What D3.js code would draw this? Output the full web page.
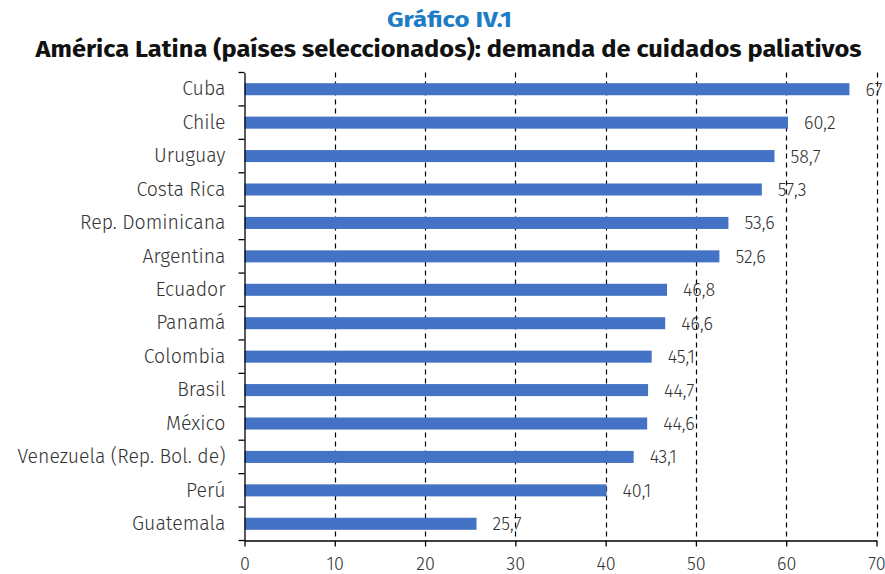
<!DOCTYPE html>
<html><head><meta charset="utf-8">
<script src="https://cdn.jsdelivr.net/npm/d3@7"></script>
<style>body{margin:0;background:#fff}svg{display:block}text{font-family:"Fira Sans","Noto Sans","Open Sans",sans-serif}</style>
</head><body><svg id="c" width="885" height="574"></svg>
<script>
const categories = ["Cuba","Chile","Uruguay","Costa Rica","Rep. Dominicana","Argentina","Ecuador","Panamá","Colombia","Brasil","México","Venezuela (Rep. Bol. de)","Perú","Guatemala"];
const values = [67,60.2,58.7,57.3,53.6,52.6,46.8,46.6,45.1,44.7,44.6,43.1,40.1,25.7];
const xTicks = [0,10,20,30,40,50,60,70];
const title = "Gráfico IV.1";
const subtitle = "América Latina (países seleccionados): demanda de cuidados paliativos";

const svg = d3.select("#c");
const m = {left:244.5, right:876.5, top:72.5, bottom:540.5};
const x = d3.scaleLinear().domain([0,70]).range([m.left, m.right]);
const y = d3.scaleBand().domain(categories).range([m.top, m.bottom]).paddingInner(0.64).paddingOuter(0.32);

svg.append("text").attr("x",449.5).attr("y",27).attr("text-anchor","middle")
  .attr("font-size",22).attr("font-weight","bold").attr("fill","#1c7cc6")
  .attr("textLength",125).attr("lengthAdjust","spacingAndGlyphs").text(title);
svg.append("text").attr("x",448.5).attr("y",57).attr("text-anchor","middle")
  .attr("font-size",23).attr("font-weight","bold").attr("fill","#111")
  .attr("textLength",826).attr("lengthAdjust","spacingAndGlyphs").text(subtitle);

// gridlines
svg.append("g").selectAll("line").data(xTicks.filter(d=>d>0)).join("line")
  .attr("x1",d=>Math.round(x(d))+0.5).attr("x2",d=>Math.round(x(d))+0.5)
  .attr("y1",m.top).attr("y2",m.bottom)
  .attr("stroke","#000").attr("stroke-width",1.2).attr("stroke-dasharray","5,4");

// bars
svg.append("g").selectAll("rect").data(values).join("rect")
  .attr("x",x(0)).attr("y",(d,i)=>y(categories[i]))
  .attr("width",d=>x(d)-x(0)).attr("height",y.bandwidth())
  .attr("fill","#4472c4");

// value labels
svg.append("g").selectAll("text").data(values).join("text")
  .attr("x",d=>x(d)+16).attr("y",(d,i)=>y(categories[i])+y.bandwidth()/2)
  .attr("dy","0.36em").attr("font-size",18).attr("font-weight",300).attr("fill","#333")
  .text(d=>d3.format("~f")(d).replace(".",","));

// y axis
const yAxis = d3.axisLeft(y).tickSize(0).tickPadding(19);
const gy = svg.append("g").attr("transform",`translate(${m.left},0)`).call(yAxis);
gy.select(".domain").attr("stroke","#000").attr("stroke-width",1.3);
gy.selectAll(".tick text").attr("font-size",19.5).attr("font-weight",300).attr("fill","#333").attr("font-family",'"Fira Sans","Noto Sans",sans-serif');
// boundary ticks
const bounds = categories.map(c=>y(c)-y.step()*y.paddingInner()/2).concat([m.bottom]);
svg.append("g").selectAll("line").data(bounds).join("line")
  .attr("x1",m.left-6).attr("x2",m.left).attr("y1",d=>d).attr("y2",d=>d)
  .attr("stroke","#000").attr("stroke-width",1.3);

// x axis
const gx = svg.append("g").attr("transform",`translate(0,${m.bottom})`)
  .call(d3.axisBottom(x).tickValues(xTicks).tickSize(6).tickPadding(11).tickSizeOuter(0));
gx.select(".domain").attr("stroke","#000").attr("stroke-width",1.3);
gx.selectAll(".tick line").attr("stroke","#000").attr("stroke-width",1.3);
gx.selectAll(".tick text").attr("font-size",18).attr("font-weight",300).attr("fill","#333").attr("font-family",'"Fira Sans","Noto Sans",sans-serif');
</script></body></html>
